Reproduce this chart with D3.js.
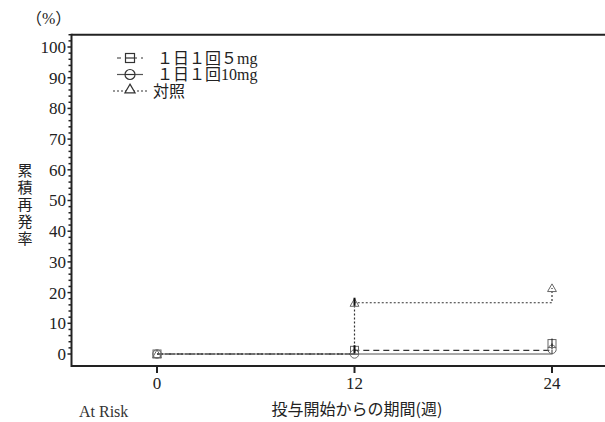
<!DOCTYPE html>
<html>
<head>
<meta charset="utf-8">
<script src="https://d3js.org/d3.v7.min.js"></script>
<style>
body { margin: 0; background: #fff; }
svg { display: block; }
.serif { font-family: "Liberation Serif", "DejaVu Serif", "Noto Sans CJK JP", serif; }
.gothic { font-family: "Noto Sans CJK JP", sans-serif; }
</style>
</head>
<body>
<svg id="svg" width="605" height="422"></svg>
<script>

// weeks since start of dosing and cumulative relapse rate (%)
let weeks = [0, 12, 24];
let rate5mg = [0, 1.2, 3.4];
let rate10mg = [0, 0, 1.5];
let rateCtrl = [0, 16.7, 21.5];

let legendLabels = ["１日１回５mg", "１日１回10mg", "対照"];
let yTicks = [0, 10, 20, 30, 40, 50, 60, 70, 80, 90, 100];
let xTicks = [0, 12, 24];

// censor marks
let censorWeeks = [12, 12, 24];
let censorVals = [16.7, 1.2, 3.4];

let svg = d3.select("#svg");

let x = d3.scaleLinear().domain([0, 24]).range([157, 552]);
let y = d3.scaleLinear().domain([0, 100]).range([354, 47]);

let frameL = 71.5, frameT = 34.7, frameB = 366, frameR = 605;

// frame
svg.append("line").attr("x1", frameL).attr("x2", frameR).attr("y1", frameT).attr("y2", frameT)
  .attr("stroke", "#222").attr("stroke-width", 2);
svg.append("line").attr("x1", frameL).attr("x2", frameR).attr("y1", frameB).attr("y2", frameB)
  .attr("stroke", "#222").attr("stroke-width", 2);
svg.append("line").attr("x1", frameL).attr("x2", frameL).attr("y1", frameT - 1).attr("y2", frameB + 1)
  .attr("stroke", "#222").attr("stroke-width", 2);

// y axis ticks
let minor = d3.range(0, 105, 2);
svg.selectAll(".ymin").data(minor).enter().append("line")
  .attr("x1", function(d){ return yTicks.indexOf(d) >= 0 ? frameL - 4 : frameL - 3; })
  .attr("x2", frameL)
  .attr("y1", function(d){ return y(d); })
  .attr("y2", function(d){ return y(d); })
  .attr("stroke", "#222").attr("stroke-width", 1.5);

svg.selectAll(".ylab").data(yTicks).enter().append("text")
  .attr("class", "serif")
  .attr("x", 66)
  .attr("y", function(d){ return y(d); })
  .attr("dy", "0.35em")
  .attr("text-anchor", "end")
  .attr("font-size", 17)
  .attr("fill", "#222")
  .text(function(d){ return d; });

// x axis ticks
svg.selectAll(".xt").data(xTicks).enter().append("line")
  .attr("x1", function(d){ return x(d); })
  .attr("x2", function(d){ return x(d); })
  .attr("y1", frameB)
  .attr("y2", frameB + 7)
  .attr("stroke", "#222").attr("stroke-width", 2);

svg.selectAll(".xlab").data(xTicks).enter().append("text")
  .attr("class", "serif")
  .attr("x", function(d){ return x(d); })
  .attr("y", 383)
  .attr("dy", "0.35em")
  .attr("text-anchor", "middle")
  .attr("font-size", 17)
  .attr("fill", "#222")
  .text(function(d){ return d; });

// titles
svg.append("text").attr("class", "serif").attr("x", 26).attr("y", 18).attr("dy", "0.35em")
  .attr("font-size", 16).attr("fill", "#222").text("（%）");

svg.append("text")
  .attr("class", "gothic")
  .attr("x", 25)
  .attr("y", 163)
  .attr("font-size", 15)
  .attr("letter-spacing", 2)
  .attr("fill", "#222")
  .style("writing-mode", "vertical-rl")
  .style("text-orientation", "upright")
  .text("累積再発率");

svg.append("text").attr("class", "gothic").attr("x", 357).attr("y", 409).attr("dy", "0.35em")
  .attr("text-anchor", "middle").attr("font-size", 16).attr("fill", "#222")
  .text("投与開始からの期間(週)");

svg.append("text").attr("class", "serif").attr("x", 79).attr("y", 417)
  .attr("font-size", 16).attr("fill", "#333").text("At Risk");

// series
let series = [
  {vals: rate5mg, dash: "6,4", shape: "square", color: "#333"},
  {vals: rate10mg, dash: null, shape: "circle", color: "#555"},
  {vals: rateCtrl, dash: "2,2", shape: "triangle", color: "#333"}
];

let line = d3.line()
  .x(function(d){ return x(d[0]); })
  .y(function(d){ return y(d[1]); })
  .curve(d3.curveStepAfter);

series.forEach(function(s){
  let pts = weeks.map(function(w, i){ return [w, s.vals[i]]; });
  svg.append("path")
    .attr("d", line(pts))
    .attr("fill", "none")
    .attr("stroke", s.color)
    .attr("stroke-width", 1.2)
    .attr("stroke-dasharray", s.dash);
});

function drawMarker(s, w, v) {
  let cx = x(w), cy = y(v);
  if (s.shape === "square") {
    svg.append("rect").attr("x", cx - 4).attr("y", cy - 4).attr("width", 8).attr("height", 8)
      .attr("fill", "none").attr("stroke", "#666").attr("stroke-width", 1);
  } else if (s.shape === "circle") {
    svg.append("circle").attr("cx", cx).attr("cy", cy).attr("r", 4.2)
      .attr("fill", "none").attr("stroke", "#666").attr("stroke-width", 1);
  } else {
    let tri = d3.symbol().type(d3.symbolTriangle).size(34);
    svg.append("path").attr("d", tri()).attr("transform", "translate(" + cx + "," + (cy + 1) + ")")
      .attr("fill", "none").attr("stroke", "#666").attr("stroke-width", 1);
  }
}

series.forEach(function(s){
  weeks.forEach(function(w, i){ drawMarker(s, w, s.vals[i]); });
});

// censor ticks
svg.selectAll(".cens").data(censorWeeks).enter().append("line")
  .attr("x1", function(d){ return x(d); })
  .attr("x2", function(d){ return x(d); })
  .attr("y1", function(d, i){ return y(censorVals[i]) - 5; })
  .attr("y2", function(d, i){ return y(censorVals[i]) + 3; })
  .attr("stroke", "#111").attr("stroke-width", function(d, i){ return i < 2 ? 2 : 1; });

// legend
let legY = [58, 74.5, 91];
series.forEach(function(s, i){
  svg.append("line").attr("x1", i === 2 ? 113 : 117).attr("x2", i === 2 ? 148 : 143)
    .attr("y1", legY[i]).attr("y2", legY[i])
    .attr("stroke", s.color).attr("stroke-width", 1.2)
    .attr("stroke-dasharray", i === 0 ? "4,4" : s.dash);
  let cx = 130, cy = legY[i];
  if (s.shape === "square") {
    svg.append("rect").attr("x", cx - 4.5).attr("y", cy - 4.5).attr("width", 9).attr("height", 9)
      .attr("fill", "white").attr("stroke", "#333").attr("stroke-width", 1.2);
    svg.append("line").attr("x1", cx - 4.5).attr("x2", cx + 4.5).attr("y1", cy).attr("y2", cy)
      .attr("stroke", "#333").attr("stroke-width", 1.2);
  } else if (s.shape === "circle") {
    svg.append("circle").attr("cx", cx).attr("cy", cy).attr("r", 5)
      .attr("fill", "white").attr("stroke", "#333").attr("stroke-width", 1.2);
    svg.append("line").attr("x1", cx - 5).attr("x2", cx + 5).attr("y1", cy).attr("y2", cy)
      .attr("stroke", "#333").attr("stroke-width", 1.2);
  } else {
    let tri = d3.symbol().type(d3.symbolTriangle).size(45);
    svg.append("path").attr("d", tri()).attr("transform", "translate(" + cx + "," + (cy - 1) + ")")
      .attr("fill", "white").attr("stroke", "#333").attr("stroke-width", 1.2);
  }
  svg.append("text").attr("class", "serif")
    .attr("x", i === 2 ? 153 : 157).attr("y", legY[i]).attr("dy", "0.35em")
    .attr("font-size", 16).attr("fill", "#222")
    .text(legendLabels[i]);
});

</script>
</body>
</html>
